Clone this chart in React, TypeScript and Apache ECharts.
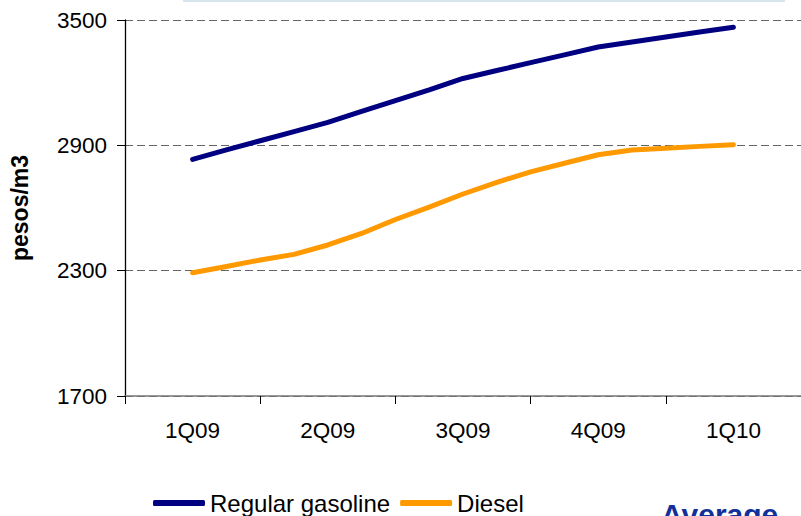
import React, { useEffect, useRef } from "react";
import * as echarts from "echarts";

// x axis: quarter boundaries every 4 slots; labels sit at quarter centres
const xSlots = ["", "", "1Q09", "", "", "", "2Q09", "", "", "", "3Q09", "", "", "", "4Q09", "", "", "", "1Q10", "", ""];
const yTicks = [1700, 2300, 2900, 3500];
// observations every quarter of a period, from 1Q09 (slot 2) to 1Q10 (slot 18)
const gasoline = [null, null, 2833, 2878, 2922, 2966, 3010, 3063, 3114, 3165, 3220, 3258, 3296, 3333, 3371, 3395, 3419, 3443, 3465, null, null];
const diesel = [null, null, 2290, 2320, 2351, 2378, 2423, 2478, 2545, 2604, 2667, 2723, 2773, 2814, 2855, 2878, 2886, 2895, 2903, null, null];

const FONT = "'Liberation Sans', Arial, sans-serif";

export default function App() {
  const ref = useRef<HTMLDivElement>(null);
  useEffect(() => {
    if (!ref.current) return;
    const chart = echarts.init(ref.current, undefined, { renderer: "svg" });
    chart.setOption({
      animation: false,
      backgroundColor: "#ffffff",
      textStyle: { fontFamily: FONT },
      grid: { left: 118, right: -6, top: 20, bottom: 120, containLabel: false },
      legend: {
        left: 148,
        top: 486,
        itemWidth: 52,
        itemHeight: 6,
        itemGap: 10,
        icon: "roundRect",
        textStyle: { fontSize: 24, color: "#000", fontFamily: FONT },
        data: ["Regular gasoline", "Diesel"],
      },
      xAxis: {
        type: "category",
        data: xSlots,
        boundaryGap: false,
        axisLine: { show: true, onZero: false, lineStyle: { color: "#777", width: 1.5 } },
        axisTick: {
          show: true,
          length: 8,
          interval: (i: number) => i % 4 === 0,
          lineStyle: { color: "#000" },
        },
        axisLabel: {
          fontSize: 22.5,
          color: "#000",
          margin: 23,
          fontFamily: FONT,
          interval: (i: number) => i % 4 === 2,
        },
        splitLine: { show: false },
      },
      yAxis: {
        type: "value",
        position: "left",
        min: yTicks[0],
        max: yTicks[yTicks.length - 1],
        interval: 600,
        name: "pesos/m3",
        nameLocation: "middle",
        nameRotate: 90,
        nameGap: 94,
        nameTextStyle: { fontSize: 23, fontWeight: "bold", color: "#000", fontFamily: FONT },
        axisLine: { show: true, onZero: false, lineStyle: { color: "#000000", width: 1.3, type: "solid" } },
        axisTick: { show: true, inside: false, length: 8, lineStyle: { color: "#000000", width: 1 } },
        axisLabel: {
          fontSize: 22.5,
          color: "#000",
          margin: 18,
          fontFamily: FONT,
          formatter: (v: number) => String(v),
        },
        splitLine: { show: true, lineStyle: { color: "#666", type: [8, 4], width: 1 } },
      },
      series: [
        {
          name: "Regular gasoline",
          type: "line",
          data: gasoline,
          showSymbol: false,
          symbol: "none",
          lineStyle: { color: "#000080", width: 5, cap: "round", join: "round" },
          itemStyle: { color: "#000080" },
        },
        {
          name: "Diesel",
          type: "line",
          data: diesel,
          showSymbol: false,
          symbol: "none",
          lineStyle: { color: "#FF9900", width: 5, cap: "round", join: "round" },
          itemStyle: { color: "#FF9900" },
        },
      ],
      graphic: [
        {
          type: "rect",
          shape: { x: 183, y: 0, width: 602, height: 2 },
          style: { fill: "#d6e4ec" },
        },
        {
          type: "text",
          x: 661,
          y: 499,
          style: {
            text: "Average",
            fontSize: 30,
            fontWeight: "bold",
            fontFamily: FONT,
            fill: "#12309a",
          },
        },
      ],
    });
    return () => chart.dispose();
  }, []);
  return <div ref={ref} style={{ position: "fixed", left: 0, top: 0, width: 801, height: 516 }} />;
}
